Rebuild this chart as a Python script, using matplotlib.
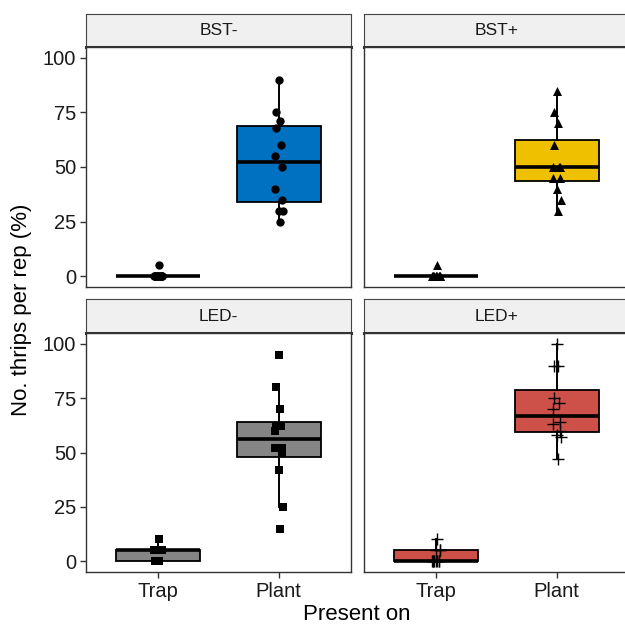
import matplotlib
matplotlib.use("Agg")
import matplotlib.pyplot as plt

plt.rcParams['font.family'] = ['Liberation Sans', 'DejaVu Sans']

# data (percent of thrips per rep)
panels = ["BST-", "BST+", "LED-", "LED+"]
categories = ["Trap", "Plant"]

bst_minus_trap = [0, 0, 0, 0, 0, 0, 0, 0, 0, 0, 0, 5]
bst_minus_plant = [90, 75, 71, 68, 60, 55, 50, 40, 35, 30, 30, 25]
bst_plus_trap = [0, 0, 0, 0, 0, 0, 0, 0, 0, 0, 0, 5]
bst_plus_plant = [85, 75, 70, 60, 50, 50, 50, 45, 45, 40, 35, 30]
led_minus_trap = [0, 0, 0, 0, 5, 5, 5, 5, 5, 5, 5, 10]
led_minus_plant = [95, 80, 70, 62, 62, 60, 52, 52, 50, 42, 25, 15]
led_plus_trap = [0, 0, 0, 0, 0, 0, 0, 0, 5, 5, 5, 10]
led_plus_plant = [100, 90, 90, 75, 73, 70, 64, 63, 60, 58, 57, 47]

values = {
    "BST-": (bst_minus_trap, bst_minus_plant),
    "BST+": (bst_plus_trap, bst_plus_plant),
    "LED-": (led_minus_trap, led_minus_plant),
    "LED+": (led_plus_trap, led_plus_plant),
}
colors = {"BST-": "#0070C0", "BST+": "#EEC000", "LED-": "#858585", "LED+": "#CE5149"}
markers = {"BST-": "o", "BST+": "^", "LED-": "s", "LED+": "+"}
msize = {"BST-": 36, "BST+": 42, "LED-": 32, "LED+": 65}

# small horizontal jitter so stacked points stay visible
jitter = [0.0, -0.02, 0.01, -0.025, 0.02, -0.035, 0.025, -0.03, 0.03, 0.0, 0.035, 0.01]

W, H = 625, 628
fig = plt.figure(figsize=(W / 100, H / 100), dpi=100)


def px_rect(left, top, right, bottom):
    return [left / W, 1 - bottom / H, (right - left) / W, (bottom - top) / H]


cols = [(86, 351), (364, 629)]
rows = [(14, 47, 287), (299, 333, 572)]

for i, name in enumerate(panels):
    r, c = divmod(i, 2)
    left, right = cols[c]
    s_top, p_top, p_bot = rows[r]

    # strip
    sax = fig.add_axes(px_rect(left, s_top, right, p_top))
    sax.set_facecolor("#F0F0F0")
    sax.set_xticks([])
    sax.set_yticks([])
    for sp in sax.spines.values():
        sp.set_color("#444444")
        sp.set_linewidth(0.8)
    sax.spines["bottom"].set_linewidth(2.2)
    sax.spines["bottom"].set_color("#333333")
    sax.text(0.5, 0.5, name, ha="center", va="center", fontsize=12.5,
             color="#1A1A1A", transform=sax.transAxes)

    ax = fig.add_axes(px_rect(left, p_top, right, p_bot))
    trap, plant = values[name]
    bp = ax.boxplot([trap, plant], positions=[1, 2], widths=0.7, whis=1.5,
                    showfliers=False, showcaps=False, patch_artist=True,
                    zorder=2)
    for box in bp["boxes"]:
        box.set_facecolor(colors[name])
        box.set_edgecolor("black")
        box.set_linewidth(1.3)
    for med in bp["medians"]:
        med.set_color("black")
        med.set_linewidth(2.6)
    for wh in bp["whiskers"]:
        wh.set_color("black")
        wh.set_linewidth(1.4)

    for pos, vals in zip([1, 2], [trap, plant]):
        xs = [pos + jitter[k % len(jitter)] for k in range(len(vals))]
        if markers[name] == "+":
            ax.scatter(xs, vals, marker="+", s=msize[name], color="black",
                       linewidths=1.0, zorder=3)
        else:
            ax.scatter(xs, vals, marker=markers[name], s=msize[name], color="black",
                       linewidths=0, zorder=3)

    ax.set_xlim(0.4, 2.6)
    ax.set_ylim(-5, 105)
    ax.set_yticks([0, 25, 50, 75, 100])
    ax.set_xticks([1, 2])
    for sp in ax.spines.values():
        sp.set_color("#333333")
        sp.set_linewidth(1.0)
    ax.tick_params(length=4, width=1, color="#333333", labelsize=14.5,
                   labelcolor="#1A1A1A", pad=3)
    if c == 1:
        ax.tick_params(axis="y", left=False, labelleft=False)
    if r == 0:
        ax.tick_params(axis="x", bottom=False, labelbottom=False)
    else:
        ax.set_xticklabels(categories)

fig.text(22 / W, 1 - 310 / H, "No. thrips per rep (%)", rotation=90,
         ha="center", va="center", fontsize=16)
fig.text(357 / W, 1 - 614 / H, "Present on", ha="center", va="center", fontsize=16)

fig.savefig("out.png", dpi=100)
